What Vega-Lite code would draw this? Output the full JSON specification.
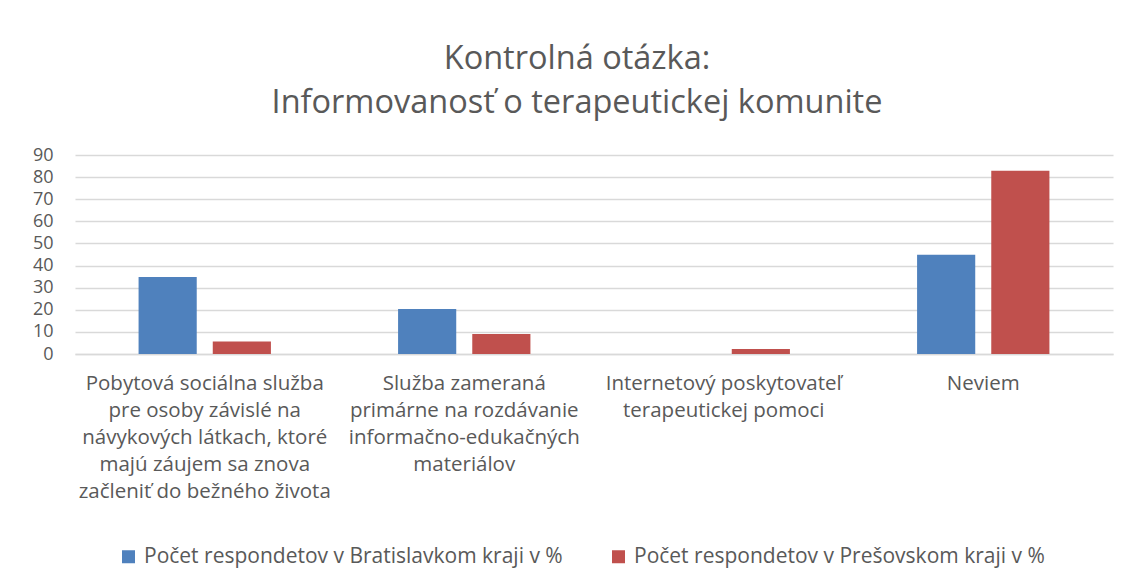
{
  "$schema": "https://vega.github.io/schema/vega-lite/v6.json",
  "width": 1038,
  "height": 199,
  "autosize": {"type": "none"},
  "padding": {"left": 75, "top": 155, "right": 15, "bottom": 233},
  "background": "white",
  "title": {
    "text": ["Kontrolná otázka:", "Informovanosť o terapeutickej komunite"],
    "font": "Open Sans",
    "fontSize": 32.5,
    "fontWeight": "normal",
    "color": "#595959",
    "lineHeight": 44,
    "anchor": "middle",
    "frame": "group",
    "dx": -17,
    "offset": 27
  },
  "data": {
    "values": [
      {"kategoria": "Pobytová sociálna služba\npre osoby závislé na\nnávykových látkach, ktoré\nmajú záujem sa znova\nzačleniť do bežného života", "kraj": "Počet respondetov v Bratislavkom kraji v %", "hodnota": 34.8},
      {"kategoria": "Pobytová sociálna služba\npre osoby závislé na\nnávykových látkach, ktoré\nmajú záujem sa znova\nzačleniť do bežného života", "kraj": "Počet respondetov v Prešovskom kraji v %", "hodnota": 5.7},
      {"kategoria": "Služba zameraná\nprimárne na rozdávanie\ninformačno-edukačných\nmateriálov", "kraj": "Počet respondetov v Bratislavkom kraji v %", "hodnota": 20.3},
      {"kategoria": "Služba zameraná\nprimárne na rozdávanie\ninformačno-edukačných\nmateriálov", "kraj": "Počet respondetov v Prešovskom kraji v %", "hodnota": 9.1},
      {"kategoria": "Internetový poskytovateľ\nterapeutickej pomoci", "kraj": "Počet respondetov v Bratislavkom kraji v %", "hodnota": 0},
      {"kategoria": "Internetový poskytovateľ\nterapeutickej pomoci", "kraj": "Počet respondetov v Prešovskom kraji v %", "hodnota": 2.3},
      {"kategoria": "Neviem", "kraj": "Počet respondetov v Bratislavkom kraji v %", "hodnota": 44.9},
      {"kategoria": "Neviem", "kraj": "Počet respondetov v Prešovskom kraji v %", "hodnota": 82.9}
    ]
  },
  "mark": {"type": "bar"},
  "encoding": {
    "x": {
      "field": "kategoria",
      "type": "nominal",
      "sort": null,
      "scale": {"paddingInner": 0.49, "paddingOuter": 0.245},
      "axis": {
        "title": null,
        "labelAngle": 0,
        "labelExpr": "split(datum.value, '\\n')",
        "labelFont": "Open Sans",
        "labelFontSize": 20.5,
        "labelColor": "#595959",
        "labelLineHeight": 27,
        "labelBaseline": "top",
        "labelPadding": 19,
        "labelLimit": 400,
        "labelOverlap": false,
        "ticks": false,
        "domain": true,
        "domainColor": "#D9D9D9",
        "domainWidth": 1.5,
        "grid": false
      }
    },
    "xOffset": {
      "field": "kraj",
      "type": "nominal",
      "sort": ["Počet respondetov v Bratislavkom kraji v %", "Počet respondetov v Prešovskom kraji v %"],
      "scale": {"paddingInner": 0.216, "paddingOuter": 0}
    },
    "y": {
      "field": "hodnota",
      "type": "quantitative",
      "scale": {"domain": [0, 90], "nice": false},
      "axis": {
        "title": null,
        "values": [0, 10, 20, 30, 40, 50, 60, 70, 80, 90],
        "labelFont": "Open Sans",
        "labelFontSize": 18,
        "labelColor": "#595959",
        "labelPadding": 22,
        "ticks": false,
        "domain": false,
        "grid": true,
        "gridColor": "#D9D9D9",
        "gridWidth": 1.5
      }
    },
    "color": {
      "field": "kraj",
      "type": "nominal",
      "sort": ["Počet respondetov v Bratislavkom kraji v %", "Počet respondetov v Prešovskom kraji v %"],
      "scale": {
        "domain": ["Počet respondetov v Bratislavkom kraji v %", "Počet respondetov v Prešovskom kraji v %"],
        "range": ["#4F81BD", "#C0504D"]
      },
      "legend": {
        "title": null,
        "orient": "none",
        "legendX": 43,
        "legendY": 391,
        "direction": "horizontal",
        "symbolType": "square",
        "symbolSize": 169,
        "symbolStrokeWidth": 0,
        "labelFont": "Open Sans",
        "labelFontSize": 21,
        "labelColor": "#595959",
        "labelLimit": 600,
        "columnPadding": 45,
        "labelOffset": 5
      }
    }
  },
  "config": {
    "view": {"stroke": null}
  }
}
